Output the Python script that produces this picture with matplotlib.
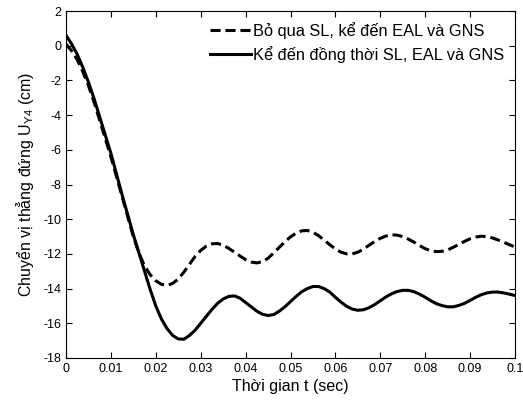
import numpy as np
import matplotlib
matplotlib.use('Agg')
import matplotlib.pyplot as plt

# time axis (sec), read every 0.00125 s
t = np.linspace(0, 0.1, 81)

# Bo qua SL, ke den EAL va GNS (dashed)
u_no_sl = [0.1, -0.3, -0.8, -1.5, -2.3, -3.25, -4.3, -5.35, -6.4, -7.55,
           -8.7, -9.85, -11.0, -11.95, -12.7, -13.2, -13.55, -13.75, -13.82, -13.7,
           -13.45, -13.05, -12.6, -12.15, -11.8, -11.55, -11.42, -11.4, -11.5, -11.68,
           -11.9, -12.12, -12.33, -12.47, -12.52, -12.45, -12.25, -11.95, -11.62, -11.3,
           -11.02, -10.8, -10.67, -10.65, -10.75, -10.95, -11.2, -11.47, -11.72, -11.9,
           -12.0, -12.0, -11.9, -11.72, -11.5, -11.28, -11.1, -10.97, -10.9, -10.92,
           -11.0, -11.15, -11.32, -11.52, -11.7, -11.82, -11.87, -11.85, -11.77, -11.62,
           -11.45, -11.28, -11.13, -11.03, -10.98, -11.0, -11.08, -11.2, -11.33, -11.47,
           -11.6]

# Ke den dong thoi SL, EAL va GNS (solid)
u_all = [0.6, 0.1, -0.5, -1.25, -2.1, -3.05, -4.1, -5.15, -6.2, -7.4,
         -8.6, -9.75, -10.9, -11.95, -13.0, -14.05, -15.0, -15.75, -16.3, -16.7,
         -16.9, -16.92, -16.7, -16.4, -16.0, -15.6, -15.2, -14.85, -14.6, -14.45,
         -14.42, -14.55, -14.8, -15.05, -15.3, -15.48, -15.55, -15.5, -15.3, -15.05,
         -14.75, -14.45, -14.18, -14.0, -13.88, -13.88, -14.0, -14.2, -14.5, -14.78,
         -15.02, -15.18, -15.25, -15.22, -15.1, -14.92, -14.7, -14.48, -14.3, -14.17,
         -14.1, -14.1, -14.18, -14.32, -14.5, -14.7, -14.87, -14.98, -15.05, -15.05,
         -14.97, -14.85, -14.68, -14.5, -14.35, -14.25, -14.2, -14.2, -14.25, -14.32,
         -14.4]

xticks = [0, 0.01, 0.02, 0.03, 0.04, 0.05, 0.06, 0.07, 0.08, 0.09, 0.1]
xlabels = ['0', '0.01', '0.02', '0.03', '0.04', '0.05', '0.06', '0.07', '0.08', '0.09', '0.1']
yticks = list(range(-18, 3, 2))

plt.rcParams['font.family'] = ['Liberation Sans', 'DejaVu Sans']
plt.rcParams['mathtext.fontset'] = 'custom'
plt.rcParams['mathtext.rm'] = 'Liberation Sans'

fig = plt.figure(figsize=(5.23, 4.04), dpi=100)
ax = fig.add_axes([66 / 523, 46 / 404, 449 / 523, 347 / 404])

ax.plot(t, u_no_sl, color='black', linestyle=(0, (3.3, 1.6)), linewidth=2.2,
        label='Bỏ qua SL, kể đến EAL và GNS')
ax.plot(t, u_all, color='black', linestyle='-', linewidth=2.2,
        label='Kể đến đồng thời SL, EAL và GNS')

ax.set_xlim(0, 0.1)
ax.set_ylim(-18, 2)
ax.set_xticks(xticks)
ax.set_xticklabels(xlabels)
ax.set_yticks(yticks)
ax.set_yticklabels([str(v) for v in yticks])
ax.tick_params(direction='in', top=True, right=True, labelsize=9, length=4)
for s in ax.spines.values():
    s.set_linewidth(0.8)

ax.set_xlabel('Thời gian t (sec)', fontsize=11.5, labelpad=3)
ax.set_ylabel('Chuyển vị thẳng đứng U$_{\\mathrm{Y4}}$ (cm)', fontsize=11.5, labelpad=5)

ax.legend(loc='upper right', frameon=False, fontsize=11.8, handlelength=2.5,
          handletextpad=0.15, borderaxespad=0.25, labelspacing=0.45)

fig.savefig('out.png', dpi=100)
